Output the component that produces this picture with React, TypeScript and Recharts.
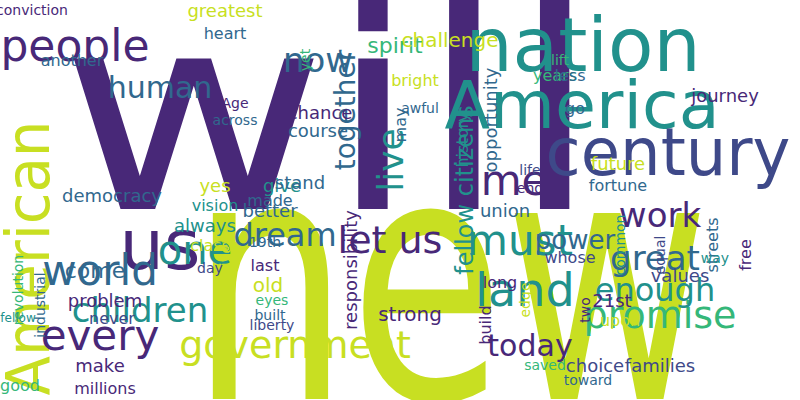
import { ScatterChart, Scatter, XAxis, YAxis } from 'recharts'

// word cloud: each word has a position in a 800x400 layout space, a weight (font size) and a tilt
const words = [
  'will', 'new', 'nation', 'America', 'century', 'us', 'people', 'American', 'world', 'every',
  'government', 'one', 'children', 'time', 'must', 'land', 'promise', 'today', 'let us', 'dream',
  'work', 'great', 'enough', 'power', 'now', 'human', 'live', 'together', 'fellow citizens', 'responsibility',
  'strong', 'make', 'come', 'problem', 'democracy', 'give', 'better', 'made', 'stand', 'always',
  'greatest', 'spirit', 'challenge', 'years', 'journey', 'conviction', 'heart', 'another', 'yes', 'vision',
  'course', 'chance', 'opportunity', 'history', 'less', 'future', 'fortune', 'union', 'end', 'life',
  'old', 'last', 'citizen', '19th', '21st', 'upon', 'two', 'choice', 'families', 'values',
  'common', 'streets', 'free', 'millions', 'good', 'industrial', 'liberty', 'eyes', 'built', 'revolution',
  'class', 'day', 'never', 'Age', 'across', 'fellow', 'whose', 'way', 'go', 'saved',
  'toward', 'build', 'long', 'edge', 'may', 'awful', 'bright', 'lift', 'yet', 'equal',
]
const xs = [
  330, 450, 583, 582, 668, 160, 75, 28, 100, 100,
  295, 195, 140, 500, 520, 525, 660, 530, 390, 285,
  660, 655, 655, 575, 318, 160, 390, 345, 465, 350,
  410, 100, 95, 105, 112, 282, 270, 270, 300, 205,
  225, 395, 450, 555, 725, 32, 225, 72, 215, 215,
  318, 320, 490, 462, 570, 618, 618, 505, 530, 530,
  268, 265, 225, 265, 612, 620, 585, 595, 660, 680,
  620, 712, 745, 105, 20, 40, 272, 272, 270, 18,
  210, 210, 112, 235, 235, 18, 570, 715, 575, 545,
  588, 485, 500, 525, 400, 420, 415, 560, 305, 660,
]
const ys = [
  114, 281, 45, 105, 152, 245, 45, 258, 270, 335,
  345, 250, 310, 180, 240, 290, 315, 345, 240, 235,
  215, 258, 290, 240, 60, 87, 160, 110, 190, 270,
  314, 365, 270, 300, 195, 185, 210, 200, 182, 225,
  10, 45, 40, 75, 95, 10, 33, 60, 185, 205,
  130, 112, 120, 140, 75, 163, 185, 210, 188, 170,
  285, 265, 260, 242, 300, 320, 310, 365, 365, 275,
  245, 245, 255, 388, 385, 305, 325, 300, 315, 290,
  245, 268, 318, 103, 120, 318, 257, 258, 108, 365,
  380, 325, 282, 300, 125, 108, 80, 60, 60, 255,
]
const sizes = [
  275, 340, 75, 65, 65, 70, 44, 60, 42, 42,
  38, 40, 34, 42, 42, 46, 38, 30, 38, 32,
  34, 34, 32, 26, 34, 30, 36, 28, 24, 18,
  20, 18, 22, 18, 18, 18, 18, 16, 18, 18,
  18, 22, 20, 16, 18, 14, 16, 16, 18, 16,
  18, 18, 18, 16, 16, 18, 16, 18, 14, 14,
  20, 16, 16, 14, 18, 16, 14, 18, 18, 18,
  14, 16, 16, 16, 16, 14, 14, 14, 14, 14,
  16, 14, 16, 14, 14, 12, 16, 14, 16, 14,
  14, 16, 16, 14, 16, 14, 16, 14, 14, 14,
]
// span of the biggest words (0 = natural width)
const spans = [540, 520, 235, 275, 245, 0, 0, 275]
// 1 = vertical word
const tilts = [
  0, 0, 0, 0, 0, 0, 0, 1, 0, 0,
  0, 0, 0, 0, 0, 0, 0, 0, 0, 0,
  0, 0, 0, 0, 0, 0, 1, 1, 1, 1,
  0, 0, 0, 0, 0, 0, 0, 0, 0, 0,
  0, 0, 0, 0, 0, 0, 0, 0, 0, 0,
  0, 0, 1, 1, 0, 0, 0, 0, 0, 0,
  0, 0, 1, 0, 0, 0, 1, 0, 0, 0,
  1, 1, 1, 0, 0, 1, 0, 0, 0, 1,
  0, 0, 0, 0, 0, 0, 0, 0, 0, 0,
  0, 1, 0, 1, 1, 0, 0, 0, 1, 1,
]
const shades = [
  0, 5, 3, 3, 1, 0, 0, 5, 2, 0,
  5, 3, 3, 0, 3, 3, 4, 0, 0, 2,
  0, 2, 3, 2, 2, 2, 3, 2, 3, 0,
  0, 0, 2, 0, 2, 3, 2, 2, 2, 3,
  5, 4, 5, 4, 0, 0, 2, 2, 5, 3,
  2, 0, 2, 3, 2, 5, 2, 2, 0, 1,
  5, 0, 5, 2, 0, 5, 0, 1, 1, 1,
  3, 2, 0, 0, 4, 2, 1, 4, 2, 4,
  5, 1, 1, 0, 2, 3, 1, 3, 2, 4,
  2, 0, 0, 5, 2, 2, 5, 4, 4, 1,
]

const VIRIDIS = ['#482878', '#3e4989', '#31688e', '#21918c', '#35b779', '#c8df22']

const table = words.map((w, i) => ({
  word: w,
  x: xs[i],
  y: ys[i],
  size: sizes[i],
  span: spans[i] || 0,
  tilt: tilts[i],
  shade: shades[i],
}))

// eslint-disable-next-line @typescript-eslint/no-explicit-any
function Word(props: any) {
  const { cx, cy, payload } = props
  const fit = payload.span ? { textLength: payload.span, lengthAdjust: 'spacingAndGlyphs' } : {}
  return (
    <text
      x={cx}
      y={cy}
      fontSize={payload.size}
      fill={VIRIDIS[payload.shade]}
      textAnchor="middle"
      dominantBaseline="central"
      fontFamily="DejaVu Sans"
      transform={payload.tilt ? `rotate(-90 ${cx} ${cy})` : undefined}
      {...fit}
    >
      {payload.word}
    </text>
  )
}

export default function App() {
  return (
    <div style={{ position: 'absolute', left: 0, top: 0, width: 800, height: 400, background: '#fff', overflow: 'hidden' }}>
      <ScatterChart width={800} height={400} margin={{ top: 0, right: 0, bottom: 0, left: 0 }}>
        <XAxis type="number" dataKey="x" domain={[0, 800]} hide />
        <YAxis type="number" dataKey="y" domain={[0, 400]} reversed hide />
        <Scatter data={table} shape={<Word />} isAnimationActive={false} />
      </ScatterChart>
    </div>
  )
}
